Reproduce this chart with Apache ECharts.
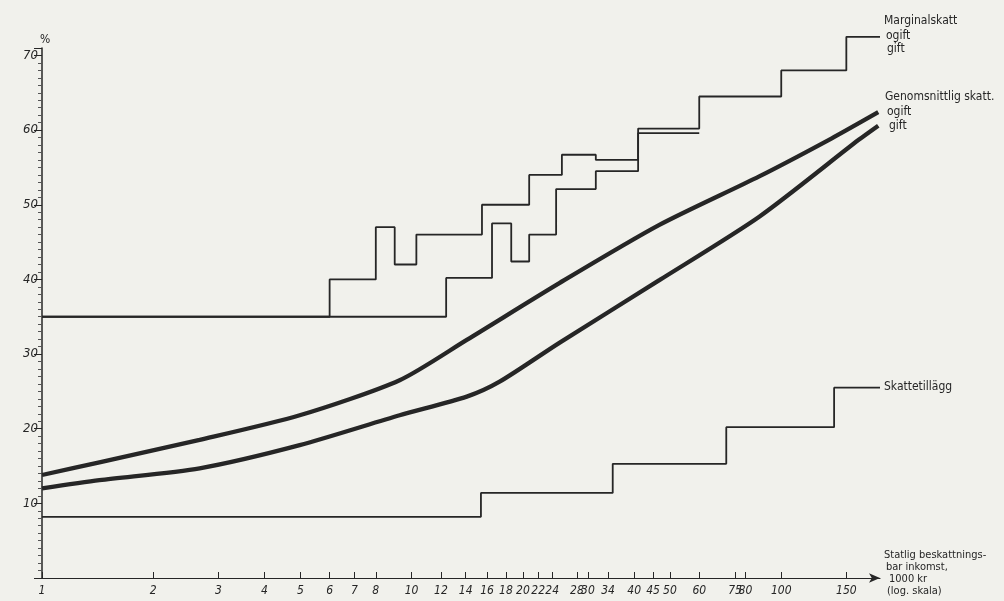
<!DOCTYPE html>
<html><head><meta charset="utf-8">
<script src="https://cdn.jsdelivr.net/npm/echarts@6/dist/echarts.min.js"></script>
<style>html,body{margin:0;background:#f1f1ec}#c{width:1004px;height:601px}</style>
</head><body><div id="c"></div>
<script>
const xTicks = [1,2,3,4,5,6,7,8,10,12,14,16,18,20,22,24,28,30,34,40,45,50,60,75,80,100,150];
const margOgiftX = [1,6,8,9,10.3,15.5,20.8,25.5,31.5,41,60,100,150,185];
const margOgiftY = [35,40,47,42,46,50,54,56.7,56,60.2,64.5,68,72.5,72.5];
const margGiftX = [1,12.4,16.5,18.6,20.8,24.6,31.5,41,60];
const margGiftY = [35,40.2,47.5,42.4,46,52.1,54.5,59.6,59.6];
const avgOgiftX = [1,1.43,2.67,4.98,9.28,14.1,25.1,46.8,87.2,137,183];
const avgOgiftY = [13.8,15.5,18.5,21.8,26.5,31.9,39.5,47.3,53.8,58.9,62.4];
const avgGiftX = [1,1.43,2.67,4.98,9.28,14.1,17.3,25.1,46.8,87.2,162,183];
const avgGiftY = [12,13.1,14.7,17.8,21.8,24.3,26.3,31.5,39.9,48.4,58.7,60.6];
const tillaggX = [1,15.4,35,71,139,185];
const tillaggY = [8.2,11.4,15.3,20.2,25.5,25.5];

const pairs = (xs, ys) => xs.map((x, i) => [x, ys[i]]);
const ink = '#262626';
const fam = '"DejaVu Sans Condensed","DejaVu Sans",sans-serif';
const chart = echarts.init(document.getElementById('c'), null, {renderer: 'canvas'});
function txt(x, y, s, size) {
  return {type: 'text', left: x, top: y, style: {text: s, font: (size||12) + 'px ' + fam, fill: ink}};
}
chart.setOption({
  backgroundColor: '#f1f1ec',
  animation: false,
  grid: {left: 42, right: 124, top: 48, bottom: 23},
  xAxis: {
    type: 'log', logBase: 10, min: 1, max: 185,
    axisLine: {lineStyle: {color: ink, width: 1.2}, symbol: ['none', 'arrow'], symbolSize: [7, 11]},
    axisTick: {inside: true, length: 6, lineStyle: {color: ink}, customValues: xTicks},
    minorTick: {show: false},
    splitLine: {show: false},
    axisLabel: {customValues: xTicks, color: ink, fontStyle: 'italic', fontFamily: fam, fontSize: 12, margin: 7,
      formatter: v => String(Math.round(v))}
  },
  yAxis: {
    type: 'value', min: 0, max: 71, interval: 10,
    name: '%', nameLocation: 'end', nameGap: 2,
    nameTextStyle: {color: ink, fontFamily: fam, fontSize: 12, align: 'left', padding: [0, 0, 0, -2]},
    axisLine: {show: true, lineStyle: {color: ink, width: 1.5}},
    axisTick: {length: 8, lineStyle: {color: ink}},
    minorTick: {show: true, splitNumber: 10, length: 4, lineStyle: {color: '#555'}},
    splitLine: {show: false},
    axisLabel: {color: ink, fontStyle: 'italic', fontFamily: fam, fontSize: 13, margin: 4,
      formatter: v => v === 0 ? '' : String(v)}
  },
  series: [
    {type: 'line', name: 'Marginalskatt ogift', step: 'end', clip: false, symbol: 'none',
      lineStyle: {color: ink, width: 1.8}, data: pairs(margOgiftX, margOgiftY)},
    {type: 'line', name: 'Marginalskatt gift', step: 'end', clip: false, symbol: 'none',
      lineStyle: {color: ink, width: 1.8}, data: pairs(margGiftX, margGiftY)},
    {type: 'line', name: 'Genomsnittlig skatt ogift', smooth: 0.25, symbol: 'none',
      lineStyle: {color: ink, width: 4.3}, data: pairs(avgOgiftX, avgOgiftY)},
    {type: 'line', name: 'Genomsnittlig skatt gift', smooth: 0.25, symbol: 'none',
      lineStyle: {color: ink, width: 4.3}, data: pairs(avgGiftX, avgGiftY)},
    {type: 'line', name: 'Skattetillägg', step: 'end', symbol: 'none',
      lineStyle: {color: ink, width: 1.8}, data: pairs(tillaggX, tillaggY)}
  ],
  graphic: [
    txt(884, 15, 'Marginalskatt'),
    txt(886, 30, 'ogift'),
    txt(887, 43, 'gift'),
    txt(885, 91, 'Genomsnittlig skatt.'),
    txt(887, 106, 'ogift'),
    txt(889, 120, 'gift'),
    txt(884, 381, 'Skattetillägg'),
    txt(884, 550, 'Statlig beskattnings-', 11),
    txt(886, 562, 'bar inkomst,', 11),
    txt(889, 574, '1000 kr', 11),
    txt(887, 586, '(log. skala)', 11)
  ]
});
</script></body></html>
